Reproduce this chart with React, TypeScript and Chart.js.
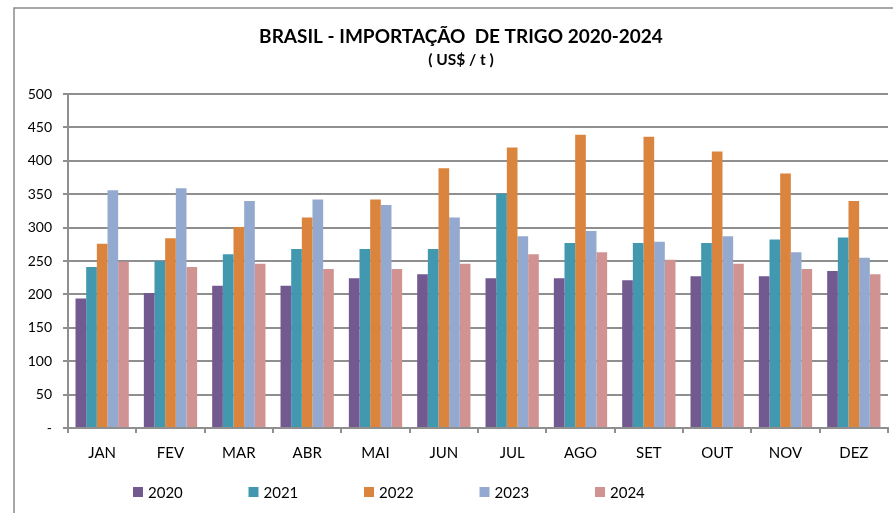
import React, { useEffect, useRef } from "react";
import { Chart, registerables } from "chart.js";

Chart.register(...registerables);

const categories = ["JAN", "FEV", "MAR", "ABR", "MAI", "JUN", "JUL", "AGO", "SET", "OUT", "NOV", "DEZ"];
const seriesLabels = ["2020", "2021", "2022", "2023", "2024"];
const values2020 = [194, 202, 213, 213, 224, 230, 224, 224, 221, 227, 227, 235];
const values2021 = [241, 250, 260, 268, 268, 268, 351, 277, 277, 277, 282, 285];
const values2022 = [276, 284, 301, 315, 342, 389, 420, 439, 436, 414, 381, 340];
const values2023 = [356, 359, 340, 342, 334, 315, 287, 295, 279, 287, 263, 255];
const values2024 = [249, 241, 246, 238, 238, 246, 260, 263, 252, 246, 238, 230];
const titleText = "BRASIL - IMPORTAÇÃO  DE TRIGO 2020-2024";
const subtitleText = "( US$ / t )";

const colors = ["#725990", "#4298AF", "#DB843D", "#94A9CF", "#D19392"];
const FONT = "Lato, 'Open Sans', sans-serif";
const GRID = "#8f8f8f";

const framePlugin = {
  id: "frameAndText",
  beforeDraw(chart: any) {
    const ctx = chart.ctx;
    ctx.save();
    ctx.fillStyle = "#ffffff";
    ctx.fillRect(0, 0, chart.width, chart.height);
    ctx.strokeStyle = "#8a8a8a";
    ctx.lineWidth = 1.5;
    ctx.beginPath();
    ctx.moveTo(14, chart.height);
    ctx.lineTo(14, 8);
    ctx.lineTo(chart.width, 8);
    ctx.stroke();
    ctx.restore();
  },
  afterDraw(chart: any) {
    const ctx = chart.ctx;
    ctx.save();
    ctx.fillStyle = "#000000";
    ctx.textAlign = "center";
    ctx.textBaseline = "alphabetic";
    ctx.font = `bold 19px ${FONT}`;
    ctx.fillText(titleText, 461, 43);
    ctx.font = `bold 15.5px ${FONT}`;
    ctx.fillText(subtitleText, 461, 65);

    // legend
    ctx.textAlign = "left";
    ctx.textBaseline = "middle";
    ctx.font = `15px ${FONT}`;
    chart.data.datasets.forEach((ds: any, i: number) => {
      const bx = 133 + i * 115.5;
      const cy = 492;
      ctx.fillStyle = ds.backgroundColor;
      ctx.fillRect(bx, cy - 5, 10, 10);
      ctx.fillStyle = "#000000";
      ctx.fillText(ds.label, bx + 15, cy + 1);
    });
    ctx.restore();
  },
};

export default function App() {
  const ref = useRef<HTMLCanvasElement>(null);

  useEffect(() => {
    if (!ref.current) return;
    const seriesValues = [values2020, values2021, values2022, values2023, values2024];
    const chart = new Chart(ref.current, {
      type: "bar",
      data: {
        labels: categories,
        datasets: seriesLabels.map((label, i) => ({
          label,
          data: seriesValues[i],
          backgroundColor: colors[i],
          borderWidth: 0,
          categoryPercentage: 0.78,
          barPercentage: 1.0,
        })),
      },
      options: {
        responsive: false,
        animation: false,
        devicePixelRatio: 1,
        layout: { padding: { top: 94, left: 0, right: 5, bottom: 45 } },
        plugins: {
          legend: { display: false },
          title: { display: false },
          tooltip: { enabled: false },
        },
        scales: {
          x: {
            offset: true,
            grid: {
              offset: true,
              drawOnChartArea: false,
              drawTicks: true,
              tickLength: 5,
              color: GRID,
              lineWidth: 2,
            },
            border: { display: true, color: GRID, width: 2 },
            ticks: {
              color: "#000000",
              font: { family: FONT, size: 15 },
              padding: 11,
              maxRotation: 0,
              autoSkip: false,
            },
            afterFit(scale: any) {
              scale.height = 40;
              scale.paddingLeft = 0;
              scale.paddingRight = 0;
            },
          },
          y: {
            min: 0,
            max: 500,
            ticks: {
              stepSize: 50,
              color: "#000000",
              font: { family: FONT, size: 14 },
              padding: 11,
              callback: (v: any) => (v === 0 ? "-" : String(v)),
            },
            grid: {
              color: GRID,
              lineWidth: 2,
              tickLength: 5,
              drawTicks: true,
            },
            border: { display: true, color: GRID, width: 2 },
            afterFit(scale: any) {
              scale.width = 68;
              scale.paddingTop = 0;
              scale.paddingBottom = 0;
            },
          },
        },
      },
      plugins: [framePlugin],
    });
    return () => chart.destroy();
  }, []);

  return (
    <div style={{ position: "fixed", left: 0, top: 0, width: 893, height: 513, background: "#fff" }}>
      <canvas ref={ref} width={893} height={513} style={{ display: "block", width: 893, height: 513 }} />
    </div>
  );
}
